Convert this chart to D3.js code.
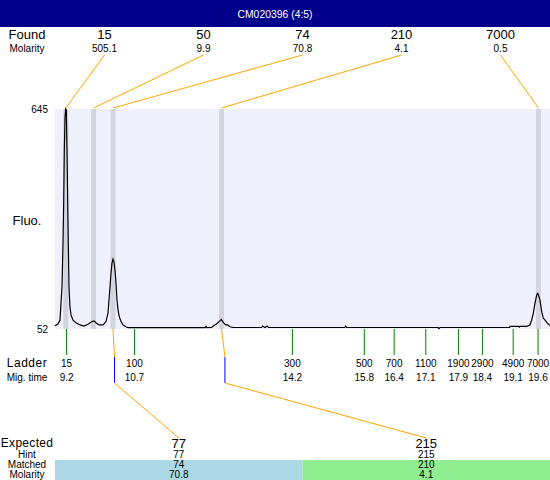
<!DOCTYPE html>
<html><head><meta charset="utf-8">
<script src="https://cdn.jsdelivr.net/npm/d3@7"></script>
<style>body{margin:0;background:#fff}svg{display:block}text{font-family:Arial,"Liberation Sans",sans-serif;fill:#000}</style>
</head><body><svg id="c" width="550" height="480"></svg>
<script>
const title = "CM020396 (4:5)";
const foundSizes = [15, 50, 74, 210, 7000];
const foundMolarity = ["505.1", "9.9", "70.8", "4.1", "0.5"];
const foundTimes = [9.183, 9.795, 10.226, 12.624, 19.629];
const ladderSizes = [15, 100, 300, 500, 700, 1100, 1900, 2900, 4900, 7000];
const ladderTimes = [9.20, 10.70, 14.19, 15.78, 16.44, 17.14, 17.86, 18.39, 19.07, 19.62];
const expectedSizes = [77, 215];
const expectedTimes = [10.26, 12.70];
const hintSizes = [77, 215];
const matchedSizes = [74, 210];
const matchedMolarity = ["70.8", "4.1"];
const yTicks = [52, 645];
const traceTimes = [8.944,9.010,9.054,9.099,9.121,9.136,9.150,9.165,9.180,9.194,9.209,9.225,9.238,9.253,9.275,9.298,9.342,9.408,9.497,9.585,9.673,9.762,9.806,9.850,9.916,10.005,10.071,10.115,10.138,10.160,10.182,10.204,10.226,10.248,10.270,10.292,10.314,10.337,10.365,10.403,10.447,10.513,10.557,12.260,12.281,12.300,12.407,12.442,12.502,12.553,12.619,12.663,12.716,12.761,12.811,12.878,13.510,13.534,13.585,13.636,13.660,15.345,15.368,15.391,17.408,17.430,17.452,18.990,19.000,19.190,19.205,19.220,19.369,19.442,19.479,19.515,19.552,19.590,19.612,19.641,19.663,19.700,19.735,19.773,19.817,19.868,19.884];
const traceFluo = [60.9,65.5,76.3,166,284,392,535,621,645,642,535,392,284,166,111,90,76,69,63,60,65,72,74,69,63,63,72,95,130,166,203,230,240,233,211,176,130,103,85,72,63,58,55.5,55.5,59,55.5,56,60,64.5,70,78,70,63,63,58,56,56,60,56,60,56,56,60,56,56,53,56,56,59,59,57,59,59.3,62.8,76.3,94.3,121,144,148,139,130,99,81,76,69,63,61];

const svg = d3.select("#c");
const W = 550, H = 480;
const plotL = 55, plotR = 550, plotT = 109, plotB = 329;
const x = d3.scaleLinear().domain([8.944, 19.884]).range([plotL, plotR]);
const y = d3.scaleLinear().domain([52, 645]).range([plotB, plotT]);
const foundCol = d3.scaleBand().domain(d3.range(foundSizes.length)).range([plotL, plotR]);
const expCol = d3.scaleBand().domain(d3.range(expectedSizes.length)).range([plotL, plotR]);
const fc = i => foundCol(i) + foundCol.bandwidth() / 2;
const ec = i => expCol(i) + expCol.bandwidth() / 2;

// title bar
svg.append("rect").attr("x", 0).attr("y", 0).attr("width", W).attr("height", 27).attr("fill", "#00008B");
svg.append("text").attr("x", W / 2).attr("y", 17.5).attr("text-anchor", "middle").style("font-size", "10.4px").style("fill", "#fff").text(title);

// left labels
const lab = (t, yy, fs, ls) => svg.append("text").attr("x", 27).attr("y", yy).attr("text-anchor", "middle")
  .style("font-size", fs + "px").style("letter-spacing", (ls || 0) + "px").text(t);
lab("Found", 38.5, 13);
lab("Molarity", 52, 10);
lab("Fluo.", 225, 13);
lab("Ladder", 366.5, 12, 0.5);
lab("Mig. time", 380.5, 10);
lab("Expected", 447, 12, 0.3);
lab("Hint", 458, 10);
lab("Matched", 468, 10);
lab("Molarity", 477.5, 10);

// found row
svg.selectAll(".fs").data(foundSizes).join("text").attr("x", (d, i) => fc(i)).attr("y", 38.5)
  .attr("text-anchor", "middle").style("font-size", "13px").text(d => d);
svg.selectAll(".fm").data(foundMolarity).join("text").attr("x", (d, i) => fc(i)).attr("y", 52)
  .attr("text-anchor", "middle").style("font-size", "10px").text(d => d);

// plot area
svg.append("rect").attr("x", plotL).attr("y", plotT).attr("width", plotR - plotL).attr("height", plotB - plotT).attr("fill", "#f0f0fd");
svg.selectAll(".band").data(foundTimes).join("rect").attr("x", d => x(d) - 2.5).attr("y", plotT)
  .attr("width", 5).attr("height", plotB - plotT).attr("fill", "#d4d4e1");

// y labels
svg.selectAll(".yt").data(yTicks).join("text").attr("x", 48).attr("y", d => y(d) + 3.5)
  .attr("text-anchor", "end").style("font-size", "10px").text(d => d);

// trace
const pts = traceTimes.map((t, i) => [t, traceFluo[i]]);
svg.append("path").datum(pts).attr("fill", "none").attr("stroke", "#000").attr("stroke-width", 1.2)
  .attr("d", d3.line().x(d => x(d[0])).y(d => y(d[1])));

// found connectors
svg.selectAll(".fl").data(foundTimes).join("line")
  .attr("x1", (d, i) => fc(i)).attr("y1", 55).attr("x2", d => x(d)).attr("y2", 108)
  .attr("stroke", "#FFA500").attr("stroke-width", 1);

// ladder ticks and labels
svg.selectAll(".lt").data(ladderTimes).join("line").attr("x1", d => x(d)).attr("x2", d => x(d))
  .attr("y1", plotB).attr("y2", 355).attr("stroke", "#008000").attr("stroke-width", 1);
svg.selectAll(".ls").data(ladderSizes).join("text").attr("x", (d, i) => x(ladderTimes[i])).attr("y", 366.5)
  .attr("text-anchor", "middle").style("font-size", "10px").text(d => d);
svg.selectAll(".lm").data(ladderTimes).join("text").attr("x", d => x(d)).attr("y", 380.5)
  .attr("text-anchor", "middle").style("font-size", "10px").text(d => d3.format(".1f")(d));

// bottom bars
const barColors = ["#ADD8E6", "#90EE90"];
svg.selectAll(".bb").data(expectedSizes).join("rect").attr("x", (d, i) => expCol(i)).attr("y", 460)
  .attr("width", expCol.bandwidth()).attr("height", 20).attr("fill", (d, i) => barColors[i]);

// expected connectors
matchedSizes.forEach((m, j) => {
  const fi = foundSizes.indexOf(m);
  const fx = x(foundTimes[fi]), exx = x(expectedTimes[j]);
  svg.append("path").attr("fill", "none").attr("stroke", "#FFA500")
    .attr("d", `M${fx},${plotB}L${exx},357`);
  svg.append("line").attr("x1", exx).attr("x2", exx).attr("y1", 357).attr("y2", 383).attr("stroke", "#0000FF");
  svg.append("line").attr("x1", exx).attr("y1", 383).attr("x2", ec(j)).attr("y2", 438).attr("stroke", "#FFA500");
});

// bottom rows
const row = (arr, yy, fs) => svg.selectAll(null).data(arr).join("text").attr("x", (d, i) => ec(i)).attr("y", yy)
  .attr("text-anchor", "middle").style("font-size", fs + "px").text(d => d);
row(expectedSizes, 447.5, 13);
row(hintSizes, 458, 10);
row(matchedSizes, 468, 10);
row(matchedMolarity, 477.5, 10);
</script></body></html>
